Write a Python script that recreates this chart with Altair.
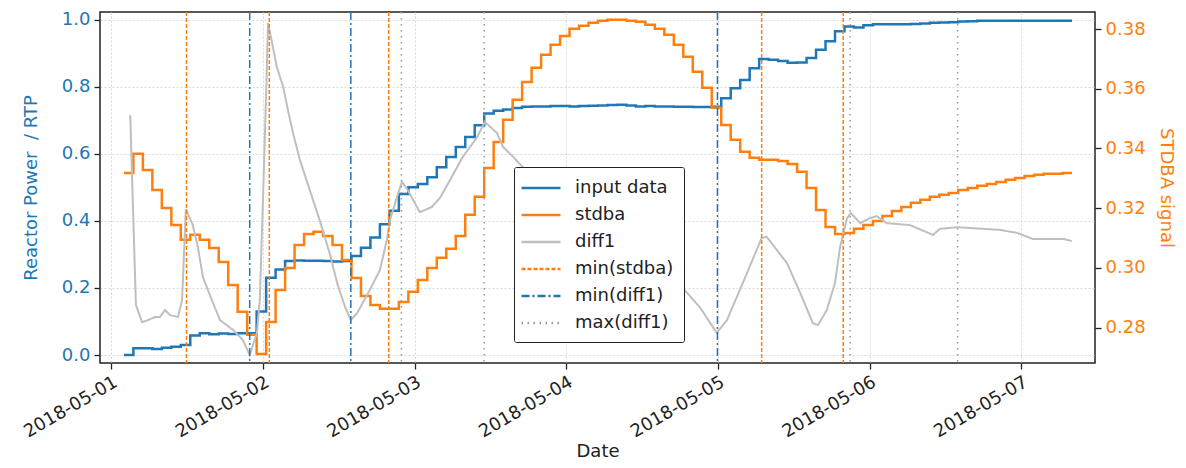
import altair as alt
import pandas as pd

T0 = pd.Timestamp("2018-05-01 00:00")
STEP_START_H = 2.0
STEP_H = 1.5

input_data = [
    0.0, 0.02, 0.02, 0.018, 0.022, 0.025, 0.03, 0.058, 0.065, 0.062,
    0.064, 0.063, 0.065, 0.065, 0.13, 0.23, 0.255, 0.28, 0.282, 0.281,
    0.281, 0.28, 0.279, 0.28, 0.295, 0.32, 0.35, 0.39, 0.43, 0.48,
    0.50, 0.51, 0.53, 0.56, 0.59, 0.62, 0.65, 0.685, 0.72, 0.728,
    0.732, 0.736, 0.74, 0.741, 0.741, 0.742, 0.742, 0.741, 0.742, 0.743,
    0.744, 0.745, 0.746, 0.744, 0.741, 0.742, 0.741, 0.741, 0.74, 0.74,
    0.739, 0.739, 0.74, 0.765, 0.795, 0.82, 0.855, 0.882, 0.88, 0.876,
    0.871, 0.872, 0.885, 0.91, 0.935, 0.965, 0.979, 0.976, 0.983, 0.986,
    0.986, 0.986, 0.986, 0.987, 0.988, 0.99, 0.991, 0.992, 0.994, 0.995,
    0.996, 0.996, 0.996, 0.996, 0.996, 0.996, 0.996, 0.996, 0.996, 0.996,
    0.996,
]

stdba = [
    0.3318, 0.3382, 0.3328, 0.3261, 0.3201, 0.3144, 0.3094, 0.3111, 0.3094, 0.3067,
    0.3020, 0.2943, 0.2853, 0.2776, 0.2712, 0.2819, 0.2926, 0.3000, 0.3077, 0.3114,
    0.3121, 0.3107, 0.3077, 0.3027, 0.2966, 0.2906, 0.2876, 0.2863, 0.2863, 0.2886,
    0.2920, 0.2960, 0.3000, 0.3034, 0.3064, 0.3107, 0.3178, 0.3238, 0.3335, 0.3422,
    0.3496, 0.3563, 0.3623, 0.3670, 0.3714, 0.3747, 0.3777, 0.3801, 0.3811, 0.3821,
    0.3828, 0.3831, 0.3831, 0.3828, 0.3824, 0.3814, 0.3801, 0.3781, 0.3747, 0.3707,
    0.3657, 0.3603, 0.3536, 0.3479, 0.3429, 0.3389, 0.3369, 0.3362, 0.3362, 0.3358,
    0.3348, 0.3322, 0.3268, 0.3194, 0.3137, 0.3114, 0.3117, 0.3131, 0.3144, 0.3157,
    0.3174, 0.3191, 0.3204, 0.3218, 0.3228, 0.3238, 0.3245, 0.3251, 0.3261, 0.3268,
    0.3275, 0.3281, 0.3288, 0.3295, 0.3301, 0.3308, 0.3312, 0.3315, 0.3315, 0.3318,
    0.3318,
]

diff1_hours = [
    3.0, 3.9, 4.86, 5.8, 6.9, 7.7, 8.5, 9.3, 10.55, 11.2,
    11.8, 12.9, 13.7, 14.5, 16.1, 17.2, 19.25, 20.8, 21.9, 23.05,
    23.5, 24.0, 24.5, 24.8, 26.2, 27.2, 27.95, 28.75, 29.85, 31.4,
    33.0, 34.6, 35.8, 37.0, 37.9, 38.9, 40.9, 42.5, 43.6, 44.1,
    45.2, 46.0, 46.9, 48.8, 50.7, 52.0, 53.6, 55.6, 57.9, 59.1,
    61.0, 62.0, 63.6, 65.1, 71.0, 77.3, 83.6, 90.4, 93.1, 95.8,
    97.4, 99.9, 102.9, 103.7, 106.9, 109.0, 111.0, 111.8, 113.2, 114.5,
    115.3, 116.4, 117.0, 118.5, 120.0, 121.1, 122.7, 126.4, 130.0, 131.1,
    133.8, 136.3, 140.6, 143.3, 145.8, 150.6, 152.0,
]
diff1 = [
    0.715, 0.149, 0.098, 0.104, 0.113, 0.113, 0.134, 0.119, 0.113, 0.164,
    0.435, 0.387, 0.322, 0.232, 0.155, 0.104, 0.075, 0.045, 0.0, 0.066,
    0.164, 0.462, 0.78, 0.99, 0.858, 0.799, 0.73, 0.662, 0.581, 0.492,
    0.40, 0.30, 0.21, 0.143, 0.104, 0.125, 0.194, 0.253, 0.343, 0.402,
    0.471, 0.516, 0.492, 0.426, 0.441, 0.468, 0.522, 0.590, 0.650, 0.695,
    0.662, 0.620, 0.590, 0.560, 0.48, 0.40, 0.32, 0.20, 0.143, 0.066,
    0.104, 0.214, 0.349, 0.352, 0.274, 0.185, 0.095, 0.089, 0.134, 0.215,
    0.322, 0.408, 0.423, 0.393, 0.408, 0.414, 0.393, 0.387, 0.358, 0.376,
    0.381, 0.378, 0.373, 0.364, 0.346, 0.346, 0.340,
]

min_stdba_hours = [11.9, 25.0, 43.9, 102.9, 115.8]
min_diff1_hours = [21.9, 37.9, 95.9]
max_diff1_hours = [45.9, 59.0, 116.9, 133.9]

series_names = ["input data", "stdba", "diff1", "min(stdba)", "min(diff1)", "max(diff1)"]
series_colors = ["#1f77b4", "#ff7f0e", "#bfbfbf", "#ff7f0e", "#1f77b4", "#9a9a9a"]
series_dashes = [[1, 0], [1, 0], [1, 0], [4, 2], [8, 3, 2, 3], [1.5, 4.5]]


def hours_to_time(hours):
    return T0 + pd.to_timedelta(hours, unit="h")


step_times = hours_to_time([STEP_START_H + STEP_H * i for i in range(len(input_data))])

df_input = pd.DataFrame({"time": step_times, "value": input_data, "series": "input data"})
df_stdba = pd.DataFrame({"time": step_times, "value": stdba, "series": "stdba"})
df_diff = pd.DataFrame({"time": hours_to_time(diff1_hours), "value": diff1, "series": "diff1"})
df_rules = pd.concat([
    pd.DataFrame({"time": hours_to_time(min_stdba_hours), "series": "min(stdba)"}),
    pd.DataFrame({"time": hours_to_time(min_diff1_hours), "series": "min(diff1)"}),
    pd.DataFrame({"time": hours_to_time(max_diff1_hours), "series": "max(diff1)"}),
], ignore_index=True)

FONT = "DejaVu Sans"
FS = 18
LEFT_DOMAIN = [-0.0238, 1.0224]
RIGHT_DOMAIN = [0.26817, 0.38570]

x_enc = alt.X(
    "time:T",
    title="Date",
    scale=alt.Scale(domain=[
        alt.DateTime(year=2018, month=4, date=30, hours=22, minutes=13),
        alt.DateTime(year=2018, month=5, date=7, hours=11, minutes=38),
    ]),
    axis=alt.Axis(
        format="%Y-%m-%d", tickCount={"interval": "day", "step": 1},
        labelAngle=-30, labelAlign="right", labelBaseline="top",
        grid=True, titlePadding=2,
    ),
)

legend = alt.Legend(title=None, orient="none", legendX=414, legendY=155)
color_enc = alt.Color("series:N", scale=alt.Scale(domain=series_names, range=series_colors), legend=legend)
dash_enc = alt.StrokeDash("series:N", scale=alt.Scale(domain=series_names, range=series_dashes), legend=legend)

blue = alt.Chart(df_input).mark_line(interpolate="step-after", strokeWidth=2.5).encode(
    x=x_enc,
    y=alt.Y("value:Q", title="Reactor Power\u00a0\u00a0/ RTP",
            scale=alt.Scale(domain=LEFT_DOMAIN, nice=False, zero=False),
            axis=alt.Axis(orient="left", values=[0, 0.2, 0.4, 0.6, 0.8, 1.0], format=".1f",
                          labelColor="#1f77b4", titleColor="#1f77b4", grid=True,
                          titlePadding=21)),
    color=color_enc, strokeDash=dash_enc,
)

orange = alt.Chart(df_stdba).mark_line(interpolate="step-after", strokeWidth=2.5).encode(
    x=x_enc,
    y=alt.Y("value:Q", title="STDBA signal",
            scale=alt.Scale(domain=RIGHT_DOMAIN, nice=False, zero=False),
            axis=alt.Axis(orient="right", values=[0.28, 0.30, 0.32, 0.34, 0.36, 0.38], format=".2f",
                          labelColor="#ff7f0e", titleColor="#ff7f0e", grid=False,
                          titlePadding=11)),
    color=color_enc, strokeDash=dash_enc,
)

grey = alt.Chart(df_diff).mark_line(strokeWidth=2).encode(
    x=x_enc,
    y=alt.Y("value:Q", scale=alt.Scale(domain=LEFT_DOMAIN, nice=False, zero=False), axis=None),
    color=color_enc, strokeDash=dash_enc,
)

rules = alt.Chart(df_rules).mark_rule(strokeWidth=1.5).encode(
    x=x_enc, color=color_enc, strokeDash=dash_enc,
)

chart = alt.layer(blue, orange, grey, rules).resolve_scale(y="independent").properties(
    width=995, height=351,
    autosize=alt.AutoSizeParams(type="none"),
    padding={"left": 92, "top": 4, "right": 83, "bottom": 97},
).configure_view(
    stroke="#222222", strokeWidth=1.5,
).configure_axis(
    labelFont=FONT, titleFont=FONT, labelFontSize=FS, titleFontSize=FS,
    titleFontWeight="normal", labelColor="#222222", titleColor="#222222",
    domain=False, tickColor="#222222", tickSize=6, tickWidth=1.3,
    gridColor="#d9d9d9", gridDash=[2, 2], gridWidth=1, labelPadding=4,
).configure_legend(
    labelFont=FONT, labelFontSize=FS, labelColor="#222222",
    symbolType="M-2,0H2", symbolSize=380, symbolStrokeWidth=2.5, symbolOffset=6,
    strokeColor="#222222", fillColor="white", padding=10, cornerRadius=2,
    rowPadding=7, labelOffset=23,
)

chart.save("out.html", embed_options={"renderer": "svg", "actions": False})
